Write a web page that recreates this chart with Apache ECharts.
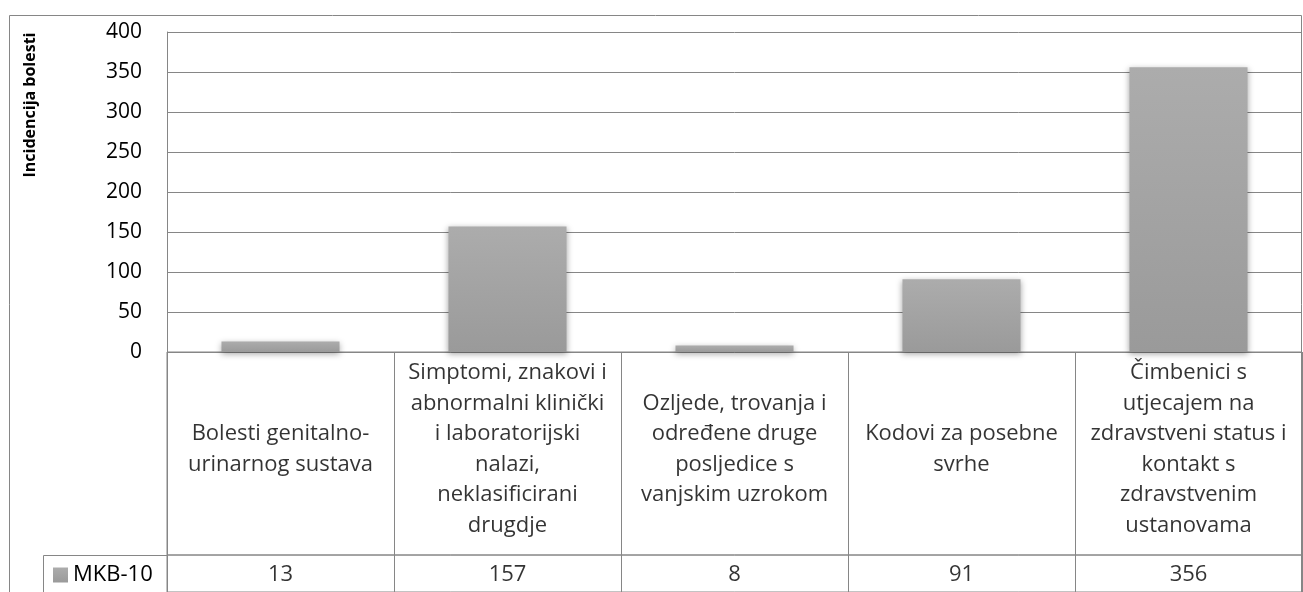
<!DOCTYPE html>
<html>
<head>
<meta charset="utf-8">
<script src="https://cdn.jsdelivr.net/npm/echarts@6/dist/echarts.min.js"></script>
<style>
  html, body { margin: 0; padding: 0; background: #fff; }
  #container { width: 1303px; height: 592px; }
</style>
</head>
<body>
<div id="container"></div>
<script>
const categories = [
	'Bolesti genitalno-urinarnog sustava',
	'Simptomi, znakovi i abnormalni klinički i laboratorijski nalazi, neklasificirani drugdje',
	'Ozljede, trovanja i određene druge posljedice s vanjskim uzrokom',
	'Kodovi za posebne svrhe',
	'Čimbenici s utjecajem na zdravstveni status i kontakt s zdravstvenim ustanovama',
];
// tick labels as wrapped in the table
const categoryLabels = [
	'Bolesti genitalno-\nurinarnog sustava',
	'Simptomi, znakovi i\nabnormalni klinički\ni laboratorijski\nnalazi,\nneklasificirani\ndrugdje',
	'Ozljede, trovanja i\nodređene druge\nposljedice s\nvanjskim uzrokom',
	'Kodovi za posebne\nsvrhe',
	'Čimbenici s\nutjecajem na\nzdravstveni status i\nkontakt s\nzdravstvenim\nustanovama',
];
const seriesName = 'MKB-10';
const values = [13, 157, 8, 91, 356];
const axisTitle = 'Incidencija bolesti';

const dom = document.getElementById('container');
const myChart = echarts.init(dom);

const font = '"Open Sans", sans-serif';
const lineColor = '#868686';
const barFill = new echarts.graphic.LinearGradient(0, 0, 0, 1, [
	{ offset: 0, color: '#acacac' },
	{ offset: 1, color: '#9a9a9a' },
]);

// table axes: no labels, just the cell borders
const tableAxis = (gridIndex) => ({
	gridIndex, type: 'category', data: categories,
	axisLine: { show: false }, axisTick: { show: false },
	axisLabel: { show: false, interval: 0 },
	splitLine: { show: true, interval: 0, lineStyle: { color: lineColor, width: 1 } },
});

const option = {
	animation: false,
	textStyle: { fontFamily: font },
	legend: {
		data: [seriesName],
		left: 48,
		top: 559,
		itemWidth: 15,
		itemHeight: 15,
		itemGap: 4,
		icon: 'rect',
		textStyle: { fontSize: 22, color: '#000', fontFamily: font },
	},
	grid: [
		{ left: 167, top: 32, width: 1135, height: 320, show: false },
		{ left: 167, top: 352, width: 1135, height: 203, show: true, borderColor: lineColor, borderWidth: 1 },
		{ left: 167, top: 555, width: 1135, height: 50, show: true, borderColor: lineColor, borderWidth: 1 },
	],
	xAxis: [
		{
			gridIndex: 0, type: 'category', data: categories,
			axisLine: { show: false }, axisTick: { show: false }, axisLabel: { show: false },
		},
		tableAxis(1),
		tableAxis(2),
	],
	yAxis: [
		{
			gridIndex: 0, type: 'value', min: 0, max: 400, interval: 50,
			axisLine: { show: true, lineStyle: { color: lineColor } },
			axisTick: { show: false },
			axisLabel: { fontSize: 21, color: '#000', margin: 25, fontFamily: font },
			splitLine: { show: true, lineStyle: { color: lineColor, width: 1 } },
		},
		{ gridIndex: 1, type: 'value', min: 0, max: 1, show: false },
		{ gridIndex: 2, type: 'value', min: 0, max: 1, show: false },
	],
	graphic: [
		{
			type: 'rect', silent: true,
			shape: { x: 9.5, y: 15.5, width: 1292, height: 600 },
			style: { fill: 'none', stroke: lineColor, lineWidth: 1 },
		},
		{
			type: 'rect', silent: true,
			shape: { x: 43.5, y: 555.5, width: 124, height: 60 },
			style: { fill: 'none', stroke: lineColor, lineWidth: 1 },
		},
		{
			type: 'text', silent: true,
			x: 30, y: 105, rotation: Math.PI / 2,
			style: {
				text: axisTitle, fontSize: 16, fontWeight: 'bold', fontFamily: font,
				fill: '#000', align: 'center', verticalAlign: 'middle',
			},
		},
	],
	series: [
		{
			name: seriesName,
			type: 'bar',
			xAxisIndex: 0, yAxisIndex: 0,
			data: values,
			barWidth: '52%',
			itemStyle: {
				color: barFill,
				shadowColor: 'rgba(0,0,0,0.35)',
				shadowBlur: 6,
				shadowOffsetY: 2,
			},
		},
		{
			type: 'scatter',
			xAxisIndex: 1, yAxisIndex: 1,
			symbolSize: 0, silent: true,
			data: categories.map((c) => [c, 0.52]),
			label: {
				show: true, position: 'inside',
				formatter: (p) => categoryLabels[p.dataIndex],
				fontSize: 22, lineHeight: 30.5, color: '#000', fontFamily: font,
				align: 'center', verticalAlign: 'middle',
			},
		},
		{
			type: 'scatter',
			xAxisIndex: 2, yAxisIndex: 2,
			symbolSize: 0, silent: true,
			data: values.map((v, i) => [categories[i], 0.46, v]),
			label: {
				show: true, position: 'inside',
				formatter: (p) => String(p.value[2]),
				fontSize: 22, color: '#000', fontFamily: font,
				align: 'center', verticalAlign: 'middle',
			},
		},
	],
};

if (option && typeof option === 'object') {
	myChart.setOption(option);
}
</script>
</body>
</html>
